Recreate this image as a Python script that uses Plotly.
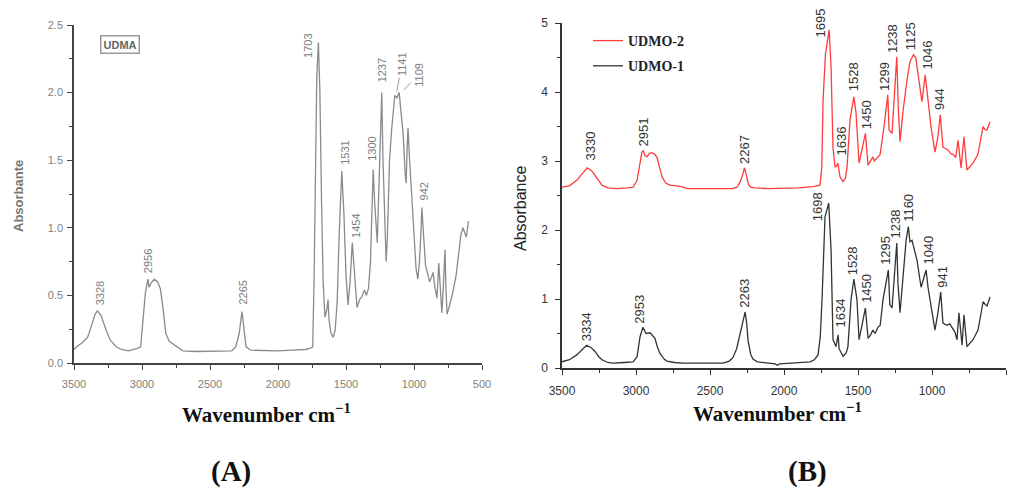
import numpy as np
import plotly.graph_objects as go

# ---------------- data ----------------
# Panel A : UDMA
wn_a = [3500, 3480, 3440, 3400, 3370, 3345, 3328, 3300, 3270, 3235, 3190, 3150, 3100, 3060, 3030, 3010,
        2995, 2975, 2956, 2948, 2935, 2910, 2885, 2865, 2845, 2825, 2800, 2770, 2740, 2700, 2600, 2450,
        2340, 2310, 2285, 2265, 2252, 2235, 2200, 2100, 2000, 1900, 1800, 1760, 1745, 1735, 1725, 1715,
        1703, 1692, 1680, 1668, 1655, 1640, 1632, 1625, 1610, 1595, 1580, 1565, 1550, 1531, 1515, 1500,
        1485, 1470, 1454, 1440, 1425, 1419, 1400, 1383, 1365, 1350, 1335, 1320, 1310, 1300, 1290, 1278,
        1270, 1258, 1245, 1237, 1228, 1215, 1205, 1195, 1180, 1165, 1150, 1141, 1125, 1109, 1095, 1080,
        1065, 1058, 1050, 1044, 1035, 1020, 1000, 985, 972, 960, 950, 942, 930, 915, 904, 885, 870, 860,
        845, 831, 818, 808, 795, 785, 772, 765, 757, 740, 715, 690, 670, 655, 640, 625, 615, 600]
abs_a = [0.10, 0.12, 0.15, 0.19, 0.28, 0.36, 0.385, 0.35, 0.26, 0.17, 0.12, 0.10, 0.09, 0.10, 0.11, 0.12,
         0.30, 0.52, 0.62, 0.56, 0.59, 0.62, 0.60, 0.55, 0.40, 0.22, 0.16, 0.14, 0.12, 0.09, 0.085, 0.085,
         0.09, 0.12, 0.22, 0.38, 0.25, 0.12, 0.095, 0.09, 0.09, 0.095, 0.10, 0.11, 0.12, 0.60, 1.50, 2.10,
         2.37, 2.00, 1.20, 0.60, 0.34, 0.40, 0.47, 0.32, 0.22, 0.19, 0.24, 0.45, 0.95, 1.42, 1.10, 0.65,
         0.43, 0.60, 0.89, 0.70, 0.45, 0.41, 0.47, 0.49, 0.54, 0.50, 0.55, 0.75, 1.10, 1.43, 1.20, 0.95,
         0.89, 1.30, 1.80, 2.00, 1.50, 1.00, 0.75, 0.95, 1.50, 1.72, 1.90, 1.98, 1.96, 2.00, 1.85, 1.70,
         1.40, 1.33, 1.60, 1.74, 1.55, 1.30, 0.95, 0.70, 0.62, 0.75, 0.95, 1.15, 0.95, 0.72, 0.68, 0.60, 0.64, 0.67,
         0.55, 0.48, 0.74, 0.55, 0.37, 0.55, 0.84, 0.55, 0.36, 0.42, 0.52, 0.65, 0.82, 0.95, 1.00, 0.95, 0.93, 1.05]

# Panel B : UDMO-2 (red)
wn_b2 = [3500, 3450, 3400, 3370, 3345, 3330, 3300, 3264, 3230, 3190, 3128, 3060, 3020, 2993, 2975, 2960,
         2951, 2940, 2926, 2910, 2892, 2870, 2858, 2840, 2824, 2800, 2770, 2730, 2689, 2655, 2500, 2350,
         2318, 2295, 2280, 2267, 2255, 2240, 2225, 2200, 2100, 2000, 1900, 1800, 1757, 1745, 1736, 1720,
         1695, 1682, 1669, 1655, 1645, 1636, 1622, 1601, 1585, 1574, 1554, 1528, 1513, 1493, 1480, 1450,
         1432, 1415, 1399, 1390, 1370, 1351, 1324, 1299, 1290, 1270, 1238, 1228, 1216, 1196, 1169, 1150,
         1135, 1125, 1110, 1095, 1068, 1046, 1034, 1007, 980, 960, 944, 926, 892, 870, 858, 840, 824, 804,
         784, 764, 723, 689, 655, 640, 628, 608]
abs_b2 = [2.62, 2.64, 2.72, 2.80, 2.87, 2.90, 2.86, 2.75, 2.65, 2.61, 2.60, 2.61, 2.62, 2.72, 2.95, 3.13,
          3.15, 3.08, 3.06, 3.11, 3.12, 3.09, 3.05, 2.90, 2.77, 2.68, 2.65, 2.64, 2.63, 2.60, 2.60, 2.60,
          2.62, 2.70, 2.80, 2.90, 2.80, 2.66, 2.62, 2.61, 2.60, 2.60, 2.61, 2.63, 2.65, 2.90, 3.88, 4.55,
          4.90, 4.36, 3.20, 2.91, 2.93, 2.97, 2.77, 2.70, 2.75, 2.91, 3.60, 3.93, 3.69, 2.97, 3.10, 3.40,
          2.94, 3.00, 3.06, 3.00, 3.05, 3.09, 3.50, 3.96, 3.45, 3.40, 4.51, 3.78, 3.28, 3.72, 4.17, 4.43,
          4.50, 4.54, 4.50, 4.27, 3.86, 4.25, 4.03, 3.50, 3.13, 3.35, 3.67, 3.20, 3.16, 3.10, 3.10, 3.05, 3.30, 2.90,
          3.35, 2.87, 2.97, 3.10, 3.50, 3.45, 3.45, 3.57]

# Panel B : UDMO-1 (black)
wn_b1 = [3500, 3450, 3400, 3370, 3334, 3300, 3277, 3250, 3230, 3190, 3155, 3080, 3020, 2993, 2973, 2953,
         2940, 2932, 2905, 2885, 2872, 2855, 2838, 2810, 2791, 2740, 2682, 2500, 2412, 2370, 2345, 2320,
         2297, 2280, 2263, 2252, 2243, 2225, 2210, 2180, 2100, 2060, 2045, 2030, 1950, 1870, 1824, 1795,
         1770, 1755, 1743, 1723, 1698, 1682, 1669, 1649, 1634, 1628, 1601, 1580, 1568, 1547, 1528, 1507,
         1493, 1475, 1450, 1432, 1415, 1399, 1385, 1365, 1350, 1331, 1295, 1285, 1270, 1238, 1230, 1216,
         1196, 1175, 1160, 1149, 1135, 1120, 1101, 1074, 1040, 1027, 1000, 980, 960, 941, 926, 899, 880,
         865, 845, 831, 818, 797, 784, 764, 740, 723, 689, 670, 655, 640, 628, 608]
abs_b1 = [0.09, 0.12, 0.19, 0.26, 0.33, 0.29, 0.24, 0.16, 0.12, 0.08, 0.07, 0.08, 0.09, 0.16, 0.45, 0.59,
          0.52, 0.50, 0.51, 0.47, 0.43, 0.30, 0.21, 0.13, 0.10, 0.08, 0.07, 0.07, 0.07, 0.10, 0.15, 0.28,
          0.50, 0.68, 0.81, 0.65, 0.40, 0.20, 0.13, 0.09, 0.07, 0.06, 0.04, 0.06, 0.07, 0.08, 0.09, 0.12,
          0.19, 0.45, 0.99, 2.19, 2.39, 1.71, 0.41, 0.31, 0.48, 0.28, 0.17, 0.22, 0.31, 0.99, 1.29, 0.99,
          0.41, 0.60, 0.87, 0.43, 0.48, 0.55, 0.50, 0.59, 0.62, 0.99, 1.42, 0.92, 0.87, 1.81, 1.23, 0.80,
          1.32, 1.85, 2.05, 1.83, 1.85, 1.72, 1.56, 1.17, 1.42, 1.17, 0.84, 0.55, 0.80, 1.10, 0.65, 0.62, 0.64,
          0.59, 0.52, 0.41, 0.80, 0.33, 0.77, 0.31, 0.36, 0.41, 0.55, 0.75, 0.96, 0.92, 0.90, 1.03]

# peak labels
peaks_a = ["3328", "2956", "2265", "1703", "1531", "1454", "1300", "1237", "942"]
peaks_a_arrow = ["1141", "1109"]
peaks_b2 = ["3330", "2951", "2267", "1695", "1636", "1528", "1450", "1299", "1238", "1125", "1046", "944"]
peaks_b1 = ["3334", "2953", "2263", "1698", "1634", "1528", "1450", "1295", "1238", "1160", "1040", "941"]

x_ticks = [3500, 3000, 2500, 2000, 1500, 1000, 500]
series_names = ["UDMO-2", "UDMO-1"]

# ---------------- styling / placement ----------------
shift_a = {"3328": (3, 4), "2956": (0, 4), "2265": (1, 5), "1703": (-11, -17), "1531": (3, 4),
           "1454": (3, 3), "1300": (-2, 7), "1237": (0, 8), "942": (2, 5)}
arrow_a = {"1141": (2, 4, 5, -27), "1109": (5, 3, 14, -15)}
shift_b2 = {"3330": (3, 5), "2951": (0, 2), "2267": (0, 2), "1695": (-9, -10), "1636": (4, 6),
            "1528": (-1, 4), "1450": (1, 2), "1299": (-3, 2), "1238": (-4, 2), "1125": (-3, 2),
            "1046": (2, 3), "944": (-1, 3)}
shift_b1 = {"3334": (0, 2), "2953": (-3, 2), "2263": (0, 2), "1698": (-11, -20), "1634": (2, 5),
            "1528": (-1, 2), "1450": (1, 3), "1295": (-3, 3), "1238": (-1, 3), "1160": (0, 3),
            "1040": (2, 3), "941": (1, 2)}

W, H = 1014, 488
GRAY_A = "#7d7d7d"


def curve_at(wn, xs, ys):
    return float(np.interp(wn, xs[::-1], ys[::-1]))


fig = go.Figure()
fig.add_trace(go.Scatter(x=wn_a, y=abs_a, mode="lines", line=dict(color="#8a8a8a", width=1.3),
                         showlegend=False, xaxis="x", yaxis="y"))
fig.add_trace(go.Scatter(x=wn_b2, y=abs_b2, mode="lines", name=series_names[0], legendgroup="g2",
                         line=dict(color="#ff3b3b", width=1.3), xaxis="x2", yaxis="y2"))
fig.add_trace(go.Scatter(x=wn_b1, y=abs_b1, mode="lines", name=series_names[1], legendgroup="g1",
                         line=dict(color="#333333", width=1.3), xaxis="x2", yaxis="y2"))

ann = []
for lab in peaks_a:
    w = float(lab)
    dx, dy = shift_a[lab]
    ann.append(dict(x=w, y=curve_at(w, wn_a, abs_a), xref="x", yref="y", text=lab, textangle=-90,
                    showarrow=False, xanchor="center", yanchor="bottom", xshift=dx, yshift=dy,
                    font=dict(family="Arial, Liberation Sans", size=11, color=GRAY_A)))
for lab in peaks_a_arrow:
    w = float(lab)
    dx, dy, ax, ay = arrow_a[lab]
    ann.append(dict(x=w, y=curve_at(w, wn_a, abs_a), xref="x", yref="y", text=lab, textangle=-90,
                    showarrow=True, arrowhead=0, arrowwidth=0.8, arrowcolor=GRAY_A, ax=ax, ay=ay,
                    xanchor="center", yanchor="middle", xshift=dx, yshift=dy,
                    font=dict(family="Arial, Liberation Sans", size=11, color=GRAY_A)))
for labs, xs, ys, sh in [(peaks_b2, wn_b2, abs_b2, shift_b2), (peaks_b1, wn_b1, abs_b1, shift_b1)]:
    for lab in labs:
        w = float(lab)
        dx, dy = sh[lab]
        ann.append(dict(x=w, y=curve_at(w, xs, ys), xref="x2", yref="y2", text=lab, textangle=-90,
                        showarrow=False, xanchor="center", yanchor="bottom", xshift=dx, yshift=dy,
                        font=dict(family="Arial, Liberation Sans", size=13, color="#333333")))

# box label and axis titles (centres in pixels)
ann.append(dict(x=119.5 / W, y=1 - 44.5 / H, xref="paper", yref="paper", text="<b>UDMA</b>",
                showarrow=False, xanchor="center", yanchor="middle",
                bordercolor="#9a9a9a", borderwidth=1.5, borderpad=2, bgcolor="white",
                font=dict(family="Arial, Liberation Sans", size=11, color="#666666")))
ann.append(dict(x=18 / W, y=1 - 196 / H, xref="paper", yref="paper", text="<b>Absorbante</b>",
                textangle=-90, showarrow=False, xanchor="center", yanchor="middle",
                font=dict(family="Arial, Liberation Sans", size=13, color="#777777")))
ann.append(dict(x=520 / W, y=1 - 209 / H, xref="paper", yref="paper", text="Absorbance",
                textangle=-90, showarrow=False, xanchor="center", yanchor="middle",
                font=dict(family="Arial, Liberation Sans", size=16, color="#222222")))
for cx, cy, txt in [(266, 413, "Wavenumber cm<sup>−1</sup>"), (777, 412, "Wavenumber cm<sup>−1</sup>"),
                    (231, 471, "(A)"), (807, 471, "(B)")]:
    size = 21 if "Wave" in txt else 29
    ann.append(dict(x=cx / W, y=1 - cy / H, xref="paper", yref="paper", text="<b>" + txt + "</b>",
                    showarrow=False, xanchor="center", yanchor="middle",
                    font=dict(family="Liberation Serif, Times New Roman, serif", size=size, color="#111111")))

xa_common = dict(range=[3500, 500], tickvals=x_ticks, ticktext=[str(v) for v in x_ticks],
                 showline=True, ticks="outside", ticklen=5, showgrid=False, zeroline=False,
                 automargin=False,
                 minor=dict(dtick=250, tick0=500, ticks="outside", ticklen=3))

fig.update_layout(
    width=W, height=H, margin=dict(l=0, r=0, t=0, b=0, autoexpand=False),
    paper_bgcolor="white", plot_bgcolor="white",
    xaxis=dict(domain=[74 / W, 482 / W], anchor="y", linecolor="#444444", linewidth=1.5,
               tickcolor="#444444", tickfont=dict(family="Arial, Liberation Sans", size=11, color="#808080"),
               ticklabelstandoff=5, **xa_common),
    yaxis=dict(domain=[(H - 363) / H, (H - 25) / H], anchor="x", range=[0, 2.5], dtick=0.5, tick0=0,
               tickformat=".1f", showline=True, linecolor="#444444", linewidth=1.5, ticks="outside",
               ticklen=5, tickcolor="#444444", showgrid=False, zeroline=False, automargin=False,
               minor=dict(dtick=0.25, ticks="outside", ticklen=3),
               tickfont=dict(family="Arial, Liberation Sans", size=11, color="#808080"), ticklabelstandoff=2),
    xaxis2=dict(domain=[562 / W, 1006 / W], anchor="y2", linecolor="#333333", linewidth=1.5,
                tickcolor="#333333", tickfont=dict(family="Arial, Liberation Sans", size=12, color="#333333"),
                ticklabelstandoff=6, **xa_common),
    yaxis2=dict(domain=[(H - 368) / H, (H - 23) / H], anchor="x2", range=[0, 5], dtick=1, tick0=0,
                showline=True, linecolor="#333333", linewidth=1.5, ticks="outside", ticklen=5,
                tickcolor="#333333", showgrid=False, zeroline=False, automargin=False,
                minor=dict(dtick=0.5, ticks="outside", ticklen=3),
                tickfont=dict(family="Arial, Liberation Sans", size=12, color="#333333"), ticklabelstandoff=5),
    legend=dict(x=588 / W, y=1 - 25 / H, xanchor="left", yanchor="top", bgcolor="rgba(0,0,0,0)",
                tracegroupgap=4, font=dict(family="Liberation Serif, Times New Roman, serif", size=14,
                                           color="#222222", weight="bold")),
    annotations=ann,
)

fig.write_html("out.html", config={"displayModeBar": False},
               post_script="document.body.style.margin='0';")
